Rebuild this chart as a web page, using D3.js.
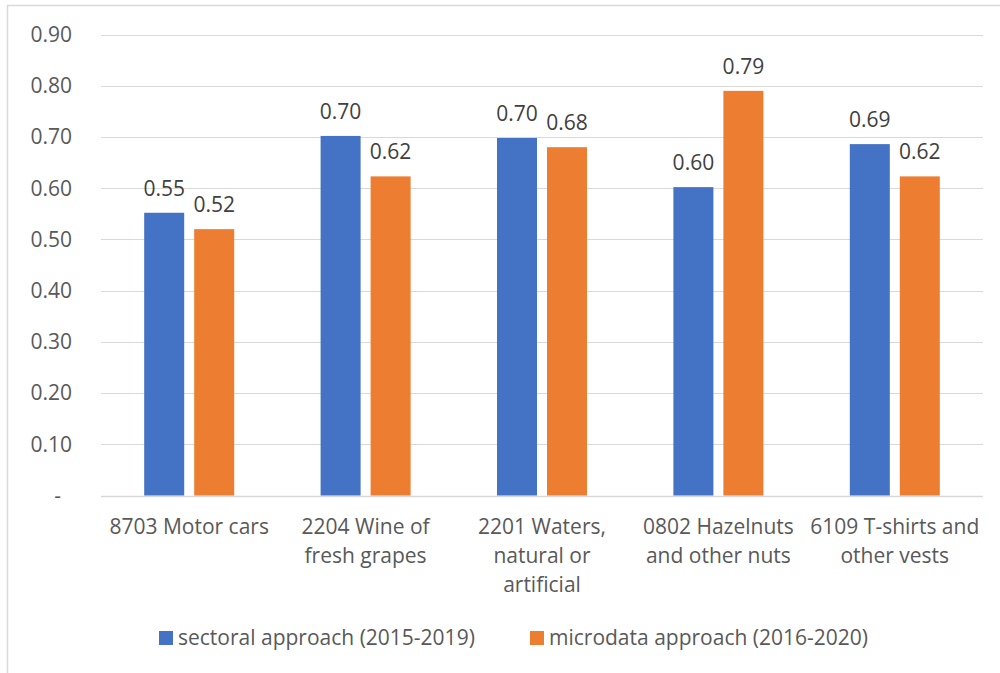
<!DOCTYPE html>
<html><head><meta charset="utf-8">
<script src="https://cdn.jsdelivr.net/npm/d3@7"></script>
<style>
html,body{margin:0;padding:0;background:#fff;}
svg{display:block;font-family:"Open Sans",sans-serif;}
</style></head>
<body>
<svg id="chart" width="1000" height="673"></svg>
<script>
const categories = ["8703 Motor cars", "2204 Wine of\nfresh grapes", "2201 Waters,\nnatural or\nartificial", "0802 Hazelnuts\nand other nuts", "6109 T-shirts and\nother vests"];
const seriesNames = ["sectoral approach (2015-2019)", "microdata approach (2016-2020)"];
const sectoral = [0.552, 0.702, 0.698, 0.602, 0.686];
const microdata = [0.520, 0.623, 0.680, 0.790, 0.623];
const yTicks = [0, 0.1, 0.2, 0.3, 0.4, 0.5, 0.6, 0.7, 0.8, 0.9];
const colors = ["#4472C4", "#ED7D31"];

const svg = d3.select("#chart");
const W = 1000, H = 673;
const m = {left: 101, right: 1000 - 983, top: 34.5, bottom: H - 495.5};
const FS = 21;

svg.append("rect").attr("x", 7.5).attr("y", 5.5).attr("width", 1010).attr("height", 700)
  .attr("fill", "#fff").attr("stroke", "#D9D9D9").attr("stroke-width", 1.5);

const y = d3.scaleLinear().domain([0, 0.9]).range([H - m.bottom, m.top]);
const x0 = d3.scaleBand().domain(categories).range([m.left, W - m.right]).paddingInner(0).paddingOuter(0);
const x1 = d3.scaleBand().domain([0, 1]).range([x0.bandwidth()/2 - 45, x0.bandwidth()/2 + 45]).paddingInner(0.2).paddingOuter(0);

// gridlines
svg.append("g").selectAll("line").data(yTicks).join("line")
  .attr("x1", m.left).attr("x2", W - m.right)
  .attr("y1", d => Math.round(y(d)) + 0.5).attr("y2", d => Math.round(y(d)) + 0.5)
  .attr("stroke", "#D9D9D9").attr("stroke-width", d => d === 0 ? 1.5 : 1.2);

// y tick labels
svg.append("g").selectAll("text").data(yTicks).join("text")
  .attr("x", d => d === 0 ? 61 : 72)
  .attr("y", d => y(d))
  .attr("dy", "0.35em")
  .attr("text-anchor", "end")
  .attr("fill", "#595959")
  .attr("font-size", FS)
  .text(d => d === 0 ? "-" : d3.format(".2f")(d));

const series = [sectoral, microdata];
const groups = svg.append("g").selectAll("g").data(categories).join("g")
  .attr("transform", d => `translate(${x0(d)},0)`);

series.forEach((vals, si) => {
  groups.append("rect")
    .attr("x", x1(si))
    .attr("width", x1.bandwidth())
    .attr("y", (d, i) => y(vals[i]))
    .attr("height", (d, i) => y(0) - y(vals[i]))
    .attr("fill", colors[si]);
  groups.append("text")
    .attr("x", x1(si) + x1.bandwidth()/2)
    .attr("y", (d, i) => y(vals[i]) - 17)
    .attr("text-anchor", "middle")
    .attr("fill", "#404040")
    .attr("font-size", FS)
    .text((d, i) => d3.format(".2f")(vals[i]));
});

// category labels
const cat = svg.append("g").selectAll("text").data(categories).join("text")
  .attr("x", d => x0(d) + x0.bandwidth()/2)
  .attr("y", 534)
  .attr("text-anchor", "middle")
  .attr("fill", "#595959")
  .attr("font-size", FS);
cat.each(function(d) {
  const t = d3.select(this);
  d.split("\n").forEach((line, i) => {
    t.append("tspan").attr("x", t.attr("x")).attr("dy", i === 0 ? 0 : 29).text(line);
  });
});

// legend
const legend = svg.append("g");
const legX = [159, 530];
seriesNames.forEach((name, i) => {
  legend.append("rect").attr("x", legX[i]).attr("y", 631).attr("width", 14).attr("height", 14).attr("fill", colors[i]);
  legend.append("text").attr("x", legX[i] + 19).attr("y", 638).attr("dy", "0.35em")
    .attr("fill", "#595959").attr("font-size", FS).text(name);
});
</script>
</body></html>
